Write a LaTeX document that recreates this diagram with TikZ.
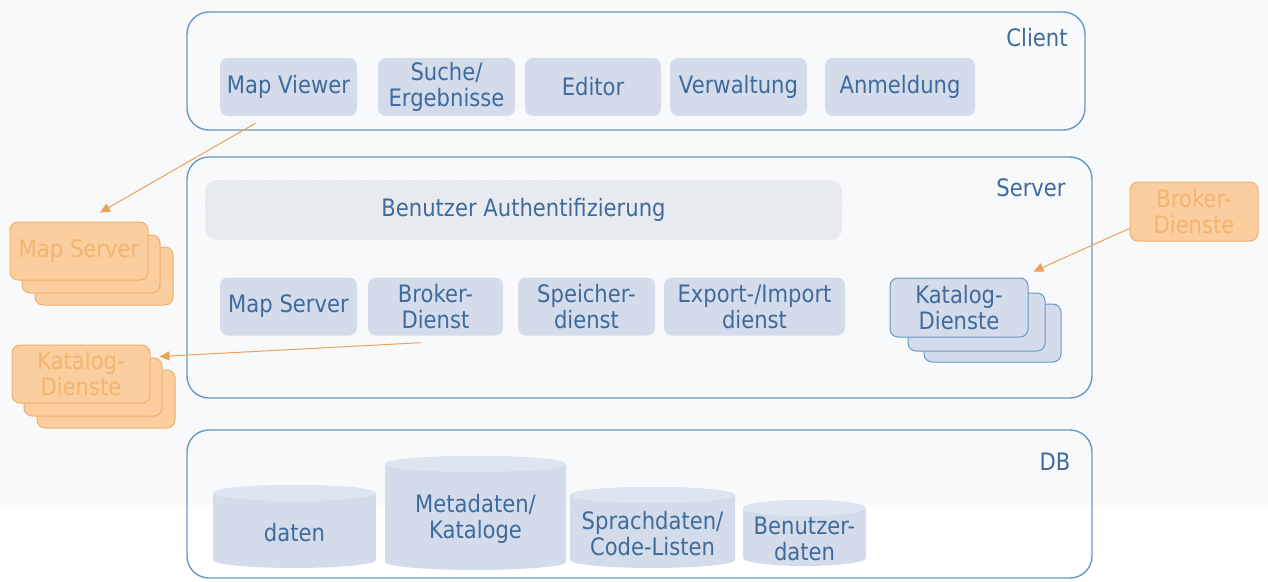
\documentclass[tikz,border=0pt]{standalone}
\usepackage{fontspec}
\setmainfont{DejaVu Sans}[FakeStretch=0.88]
\usetikzlibrary{positioning,arrows.meta,patterns}

\definecolor{bgcol}{RGB}{248,249,250}
\definecolor{layercol}{RGB}{104,152,200}
\definecolor{boxfill}{RGB}{212,220,236}
\definecolor{txtblue}{RGB}{62,106,156}
\definecolor{authfill}{RGB}{238,240,244}
\definecolor{authline}{RGB}{222,226,233}
\definecolor{orfill}{RGB}{250,206,158}
\definecolor{ordraw}{RGB}{238,176,108}
\definecolor{ortext}{RGB}{242,180,112}
\definecolor{arrcol}{RGB}{236,162,84}
\definecolor{dbtopcol}{RGB}{222,228,240}

\begin{document}
\begin{tikzpicture}[
        x=1pt, y=-1pt,
        font=\fontsize{24}{26}\selectfont,
        layer/.style={
            draw=layercol,
            line width=1.4pt,
            rounded corners=22pt
        },
        comp/.style={
            fill=boxfill,
            rounded corners=8pt,
            text=txtblue,
            align=center,
            inner sep=2pt,
            minimum width=137pt,
            minimum height=58pt
        },
        stackbox/.style={
            comp,
            draw=layercol,
            line width=1pt
        },
        extern/.style={
            fill=orfill,
            draw=ordraw,
            line width=1pt,
            rounded corners=8pt,
            text=ortext,
            align=center,
            inner sep=2pt,
            minimum width=138pt,
            minimum height=58pt
        },
        tag/.style={text=txtblue},
        dbtext/.style={text=txtblue, align=center},
        flow/.style={draw=arrcol, line width=1pt, -{Triangle[length=10pt,width=9pt]}}
    ]
        \useasboundingbox (0,0) rectangle (1268,581);
        \fill[bgcol] (0,0) rectangle (1268,505);

        % Client
        \node[layer, minimum width=898pt, minimum height=118pt] (client) at (636,71) {};
        \node[tag] (clientlbl) at (1037,38) {Client};
        \node[comp] (mv) at (288.5,87) {Map Viewer};
        \node[comp] (such) at (446.5,87) {Suche/\\Ergebnisse};
        \node[comp, minimum width=136pt] (edit) at (593,87) {Editor};
        \node[comp] (verw) at (738.5,87) {Verwaltung};
        \node[comp, minimum width=150pt] (anm) at (900,87) {Anmeldung};

        % Server
        \node[layer, minimum width=905pt, minimum height=241pt] (server) at (639.5,277.5) {};
        \node[tag] (serverlbl) at (1031,188) {Server};
        \node[rounded corners=12pt, minimum width=637pt, minimum height=60pt,
              preaction={fill=authfill}, pattern=north east lines, pattern color=authline,
              text=txtblue] (auth) at (523.5,210) {Benutzer Authentifizierung};
        \node[comp] (mapsrv) at (288.5,306.5) {Map Server};
        \node[comp, minimum width=135pt] (broker) at (435.5,306.5) {Broker-\\Dienst};
        \node[comp] (speicher) at (586.5,306.5) {Speicher-\\dienst};
        \node[comp, minimum width=181pt] (export) at (754.5,306.5) {Export-/Import\\dienst};
        \node[stackbox] (kat3) at (992.5,333) {};
        \node[stackbox] (kat2) at (976.5,322) {};
        \node[stackbox, minimum width=138pt, minimum height=59pt] (kat1) at (959,307.5) {Katalog-\\Dienste};

        % externe Dienste
        \node[extern] (ms3) at (104,276) {};
        \node[extern] (ms2) at (91,264) {};
        \node[extern] (ms1) at (79,251) {Map Server};
        \node[extern] (kd3) at (106,399) {};
        \node[extern] (kd2) at (93,387) {};
        \node[extern] (kd1) at (81,374) {Katalog-\\Dienste};
        \node[extern, minimum width=128pt, minimum height=59pt] (brok) at (1194,211.5) {Broker-\\Dienste};

        \draw[flow] ([xshift=-33pt,yshift=-7pt]mv.south) -- ([xshift=21pt,yshift=9pt]ms1.north);
        \draw[flow] ([xshift=-15pt,yshift=-7pt]broker.south) -- ([xshift=9pt,yshift=-12pt]kd1.north east);
        \draw[flow] ([yshift=-17pt]brok.west) -- ([xshift=5pt,yshift=6pt]kat1.north east);

        % DB
        \node[layer, minimum width=905pt, minimum height=148pt] (db) at (639.5,504) {};
        \node[tag] (dblbl) at (1055,462) {DB};
        \foreach \nm/\xa/\xb/\ya/\yb/\txt in {
            daten/213/376/485/568/{daten},
            meta/385/566/456/570/{Metadaten/\\Kataloge},
            sprache/570/735/487/568/{Sprachdaten/\\Code-Listen},
            user/743/866/500/566/{Benutzer-\\daten}}{
            \pgfmathsetmacro\rx{(\xb-\xa)/2}
            \pgfmathsetmacro\cx{(\xa+\xb)/2}
            \fill[boxfill] (\xa,\ya+8) -- (\xa,\yb-8)
                arc[start angle=180, end angle=0, x radius=\rx, y radius=8]
                -- (\xb,\ya+8)
                arc[start angle=0, end angle=-180, x radius=\rx, y radius=8] -- cycle;
            \fill[dbtopcol] (\cx,\ya+8) ellipse[x radius=\rx, y radius=8];
            \node[dbtext] (\nm) at (\cx,{(\ya+\yb)/2+6}) {\txt};
        }
    \end{tikzpicture}
\end{document}
